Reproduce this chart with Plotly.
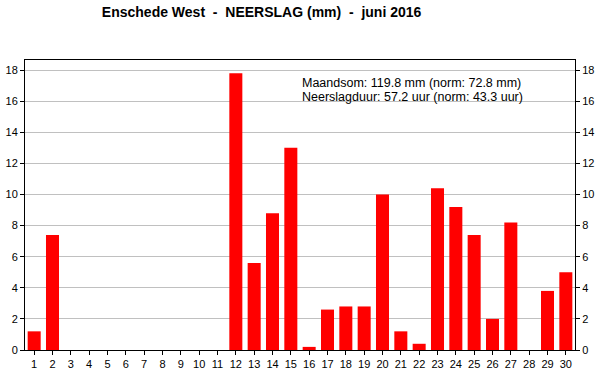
import plotly.graph_objects as go

days = list(range(1, 31))
neerslag = [1.2, 7.4, 0, 0, 0, 0, 0, 0, 0, 0, 0, 17.8, 5.6, 8.8, 13.0,
            0.2, 2.6, 2.8, 2.8, 10.0, 1.2, 0.4, 10.4, 9.2, 7.4, 2.0, 8.2, 0, 3.8, 5.0]
title = "Enschede West  -  NEERSLAG (mm)  -  juni 2016"
info_lines = ["Maandsom: 119.8 mm (norm: 72.8 mm)", "Neerslagduur: 57.2 uur (norm: 43.3 uur)"]
yticks = list(range(0, 19, 2))

fig = go.Figure()
fig.add_trace(go.Bar(x=days, y=neerslag, marker=dict(color="#ff0000", line=dict(width=0)),
                     showlegend=False, hoverinfo="x+y"))
fig.add_trace(go.Scatter(x=[days[0]], y=[0], yaxis="y2", mode="markers",
                         marker=dict(opacity=0), showlegend=False, hoverinfo="skip"))

font = dict(family="Liberation Sans, Arial, sans-serif", size=11, color="black")
yrange = [0, 18.65]
fig.update_layout(
    width=600, height=390,
    margin=dict(l=25, r=25, t=60, b=40, autoexpand=False),
    paper_bgcolor="white", plot_bgcolor="white",
    bargap=0.29,
    title=dict(text="<b>" + title + "</b>", x=0.436, xanchor="center", xref="container",
               y=0.9695, yref="container", yanchor="middle",
               font=dict(family="Liberation Sans, Arial, sans-serif", size=14, color="black")),
    xaxis=dict(range=[0.5, 30.5], tickmode="array", tickvals=days, ticktext=[str(d) for d in days],
               ticks="outside", ticklen=4, tickcolor="black", showline=True, linecolor="black",
               linewidth=1, mirror=True, showgrid=False, tickfont=font, zeroline=False,
               automargin=False),
    yaxis=dict(range=yrange, tickmode="array", tickvals=yticks, ticks="outside", ticklen=4,
               tickcolor="black", showline=True, linecolor="black", linewidth=1, mirror=True,
               showgrid=True, gridcolor="#c0c0c0", gridwidth=1, tickfont=font, zeroline=False,
               automargin=False),
    yaxis2=dict(range=yrange, overlaying="y", side="right", tickmode="array", tickvals=yticks,
                ticks="outside", ticklen=4, tickcolor="black", showline=False, showgrid=False,
                tickfont=font, zeroline=False, automargin=False),
    annotations=[
        dict(text=info_lines[0], xref="paper", yref="paper", x=0.5, y=0.9207,
             xanchor="left", yanchor="middle", align="left", showarrow=False,
             font=dict(family="Liberation Sans, Arial, sans-serif", size=12.5, color="black")),
        dict(text=info_lines[1], xref="paper", yref="paper", x=0.5, y=0.8741,
             xanchor="left", yanchor="middle", align="left", showarrow=False,
             font=dict(family="Liberation Sans, Arial, sans-serif", size=12.5, color="black")),
    ],
)

fig.write_html("out.html", post_script="document.body.style.margin='0';",
               config={"displayModeBar": False})
